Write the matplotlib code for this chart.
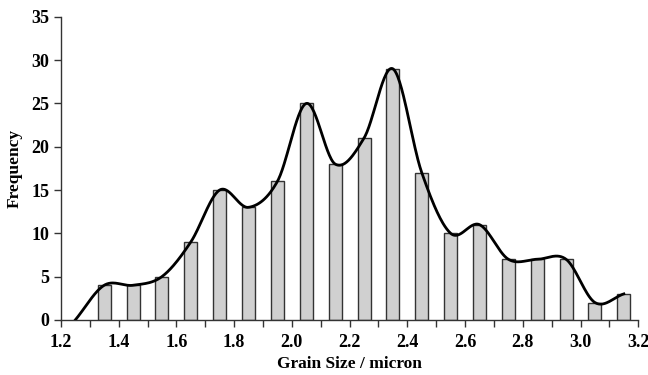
import numpy as np
import matplotlib.pyplot as plt

## grain size histogram with a smoothed frequency curve
sizes = [1.35, 1.45, 1.55, 1.65, 1.75, 1.85, 1.95, 2.05, 2.15, 2.25,
         2.35, 2.45, 2.55, 2.65, 2.75, 2.85, 2.95, 3.05, 3.15]
counts = [4, 4, 5, 9, 15, 13, 16, 25, 18, 21,
          29, 17, 10, 11, 7, 7, 7, 2, 3]

# points of the smoothed curve (starts at zero on the left)
curve_x = [1.25] + sizes
curve_y = [0] + counts

plt.rcParams['font.family'] = ['Liberation Serif', 'DejaVu Serif']
plt.rcParams['font.weight'] = 'bold'


def catmull_rom(xs, ys, n=30):
    """Smooth line through the given points, like a spreadsheet smoothed line."""
    pts = np.column_stack([xs, ys]).astype(float)
    pts = np.vstack([2 * pts[0] - pts[1], pts, 2 * pts[-1] - pts[-2]])
    out = []
    t = np.linspace(0, 1, n, endpoint=False)[:, None]
    for i in range(1, len(pts) - 2):
        p0, p1, p2, p3 = pts[i - 1], pts[i], pts[i + 1], pts[i + 2]
        seg = 0.5 * ((2 * p1) + (-p0 + p2) * t
                     + (2 * p0 - 5 * p1 + 4 * p2 - p3) * t ** 2
                     + (-p0 + 3 * p1 - 3 * p2 + p3) * t ** 3)
        out.append(seg)
    out.append(pts[-2][None, :])
    out = np.vstack(out)
    return out[:, 0], out[:, 1]


fig = plt.figure(figsize=(6.48, 3.75), dpi=100)
ax = fig.add_axes([0.094, 0.147, 0.891, 0.808])

ax.bar(sizes, counts, width=0.045, color='#d0d0d0', edgecolor='#333333',
       linewidth=1.0, zorder=2)
sx, sy = catmull_rom(curve_x, curve_y)
ax.plot(sx, sy, color='black', linewidth=2, zorder=3)

ax.set_xlim(1.2, 3.2)
ax.set_ylim(0, 35)
ax.set_xticks(np.arange(1.2, 3.21, 0.2))
ax.set_xticks(np.arange(1.3, 3.2, 0.2), minor=True)
ax.set_xticklabels(['{:.1f}'.format(v) for v in np.arange(1.2, 3.21, 0.2)])
ax.set_yticks(range(0, 36, 5))

for s in ['top', 'right']:
    ax.spines[s].set_visible(False)
for s in ['left', 'bottom']:
    ax.spines[s].set_color('#333333')
    ax.spines[s].set_linewidth(1.0)

ax.tick_params(axis='both', which='both', direction='out', length=5,
               width=1, color='#333333', labelsize=13)
ax.tick_params(axis='x', pad=5)
ax.set_xlabel('Grain Size / micron', fontsize=12.5, fontweight='bold', labelpad=4)
ax.set_ylabel('Frequency', fontsize=12.5, fontweight='bold', labelpad=6)

fig.savefig('out.png', dpi=100)
